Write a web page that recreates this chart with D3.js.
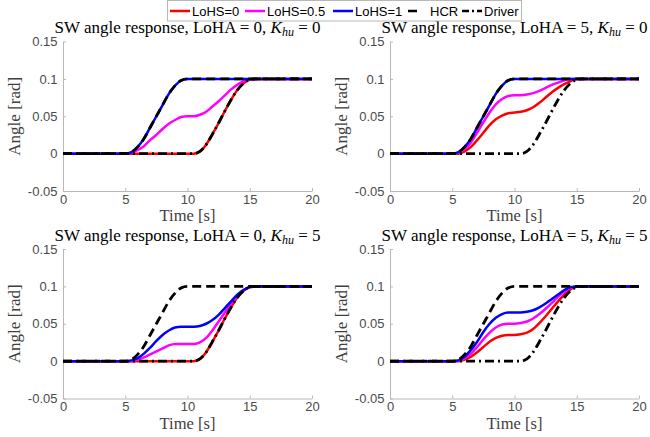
<!DOCTYPE html>
<html>
<head>
<meta charset="utf-8">
<script src="https://cdn.jsdelivr.net/npm/d3@7"></script>
<style>
  body { margin: 0; background: #fff; }
  svg { display: block; }
</style>
</head>
<body>
<script>
// time grid (s) and response curves
var time = [0,0.5,1,1.5,2,2.5,3,3.5,4,4.5,5,5.5,6,6.5,7,7.5,8,8.5,9,9.5,10,
  10.5,11,11.5,12,12.5,13,13.5,14,14.5,15,15.5,16,16.5,17,17.5,18,18.5,19,19.5,20];

var hcr = [0,0,0,0,0,0,0,0,0,0,0,
  0.002,0.009,0.02,0.035,0.05,0.065,0.08,0.091,0.098,
  0.1,0.1,0.1,0.1,0.1,0.1,0.1,0.1,0.1,0.1,0.1,0.1,0.1,0.1,0.1,0.1,0.1,0.1,0.1,0.1,0.1];

var driver = [0,0,0,0,0,0,0,0,0,0,0,0,0,0,0,0,0,0,0,0,0,0,
  0.003,0.012,0.026,0.041,0.057,0.072,0.085,0.094,0.099,
  0.1,0.1,0.1,0.1,0.1,0.1,0.1,0.1,0.1,0.1];

// LoHA = 0, Khu = 0
var p1_lohs0 = [0,0,0,0,0,0,0,0,0,0,0,0,0,0,0,0,0,0,0,0,0,0,
  0.003,0.012,0.026,0.041,0.057,0.072,0.085,0.094,0.099,
  0.1,0.1,0.1,0.1,0.1,0.1,0.1,0.1,0.1,0.1];
var p1_lohs05 = [0,0,0,0,0,0,0,0,0,0,0,
  0.001,0.005,0.01,0.018,0.025,0.033,0.04,0.045,0.049,0.05,
  0.05,0.052,0.056,0.063,0.07,0.078,0.086,0.092,0.097,0.099,
  0.1,0.1,0.1,0.1,0.1,0.1,0.1,0.1,0.1,0.1];
var p1_lohs1 = [0,0,0,0,0,0,0,0,0,0,0,
  0.002,0.009,0.02,0.035,0.05,0.065,0.08,0.091,0.098,
  0.1,0.1,0.1,0.1,0.1,0.1,0.1,0.1,0.1,0.1,0.1,0.1,0.1,0.1,0.1,0.1,0.1,0.1,0.1,0.1,0.1];

// LoHA = 5, Khu = 0
var p2_lohs0 = [0,0,0,0,0,0,0,0,0,0,0,0,
  0.003,0.009,0.018,0.028,0.038,0.046,0.051,0.054,0.055,0.056,0.058,0.062,0.068,0.075,0.082,0.088,0.093,0.097,
  0.1,0.1,0.1,0.1,0.1,0.1,0.1,0.1,0.1,0.1,0.1];
var p2_lohs05 = [0,0,0,0,0,0,0,0,0,0,0,
  0.001,0.006,0.015,0.028,0.042,0.055,0.066,0.073,0.077,0.078,0.078,0.079,0.081,0.084,0.088,0.092,0.095,0.098,
  0.1,0.1,0.1,0.1,0.1,0.1,0.1,0.1,0.1,0.1,0.1,0.1];
var p2_lohs1 = [0,0,0,0,0,0,0,0,0,0,0,
  0.002,0.009,0.02,0.035,0.05,0.065,0.08,0.091,0.098,
  0.1,0.1,0.1,0.1,0.1,0.1,0.1,0.1,0.1,0.1,0.1,0.1,0.1,0.1,0.1,0.1,0.1,0.1,0.1,0.1,0.1];

// LoHA = 0, Khu = 5
var p3_lohs0 = [0,0,0,0,0,0,0,0,0,0,0,0,0,0,0,0,0,0,0,0,0,0,
  0.003,0.012,0.026,0.041,0.057,0.072,0.085,0.094,0.099,
  0.1,0.1,0.1,0.1,0.1,0.1,0.1,0.1,0.1,0.1];
var p3_lohs05 = [0,0,0,0,0,0,0,0,0,0,0,0,
  0.002,0.005,0.009,0.013,0.017,0.021,0.023,0.023,0.023,0.023,0.025,0.031,0.041,0.053,0.065,0.077,0.087,0.095,0.099,
  0.1,0.1,0.1,0.1,0.1,0.1,0.1,0.1,0.1,0.1];
var p3_lohs1 = [0,0,0,0,0,0,0,0,0,0,0,
  0.001,0.004,0.01,0.018,0.027,0.035,0.041,0.045,0.046,0.046,0.046,0.047,0.05,0.055,0.062,0.071,0.08,0.089,0.095,0.099,
  0.1,0.1,0.1,0.1,0.1,0.1,0.1,0.1,0.1,0.1];

// LoHA = 5, Khu = 5
var p4_lohs0 = [0,0,0,0,0,0,0,0,0,0,0,0,
  0.002,0.006,0.012,0.019,0.026,0.031,0.034,0.035,0.035,0.036,0.038,0.043,0.051,0.06,0.07,0.08,0.089,0.096,
  0.1,0.1,0.1,0.1,0.1,0.1,0.1,0.1,0.1,0.1,0.1];
var p4_lohs05 = [0,0,0,0,0,0,0,0,0,0,0,
  0.0005,0.004,0.01,0.019,0.029,0.038,0.045,0.049,0.05,0.05,0.051,0.053,0.057,0.063,0.07,0.078,0.086,0.093,0.098,
  0.1,0.1,0.1,0.1,0.1,0.1,0.1,0.1,0.1,0.1,0.1];
var p4_lohs1 = [0,0,0,0,0,0,0,0,0,0,0,
  0.001,0.006,0.015,0.026,0.039,0.05,0.058,0.063,0.065,0.065,0.065,0.066,0.068,0.072,0.077,0.083,0.089,0.095,0.099,
  0.1,0.1,0.1,0.1,0.1,0.1,0.1,0.1,0.1,0.1,0.1];

var xTicks = [0, 5, 10, 15, 20];
var yTicks = [-0.05, 0, 0.05, 0.1, 0.15];
var yTickLabels = ['-0.05', '0', '0.05', '0.1', '0.15'];

var legendNames = ['LoHS=0', 'LoHS=0.5', 'LoHS=1', 'HCR', 'Driver'];

var panels = [
  { loha: 0, khu: 0, lines: [p1_lohs0, p1_lohs05, p1_lohs1], left: 63, top: 41.5 },
  { loha: 5, khu: 0, lines: [p2_lohs0, p2_lohs05, p2_lohs1], left: 390, top: 41.5 },
  { loha: 0, khu: 5, lines: [p3_lohs0, p3_lohs05, p3_lohs1], left: 63, top: 249 },
  { loha: 5, khu: 5, lines: [p4_lohs0, p4_lohs05, p4_lohs1], left: 390, top: 249 }
];

var colors = ['#ff0000', '#ff00ff', '#0000ff'];
var plotW = 249, plotH = 149.5;
var serif = '"Liberation Serif", "DejaVu Serif", serif';
var sans = '"Liberation Sans", Arial, sans-serif';

var svg = d3.select('body').append('svg')
  .attr('width', 650)
  .attr('height', 437);

var x = d3.scaleLinear().domain([0, 20]).range([0, plotW]);
var y = d3.scaleLinear().domain([-0.05, 0.15]).range([plotH, 0]);

var line = d3.line()
  .x(function(d) { return x(d[0]); })
  .y(function(d) { return y(d[1]); })
  .curve(d3.curveMonotoneX);

var pairs = function(vals) {
  return time.map(function(t, i) { return [t, vals[i]]; });
};

panels.forEach(function(p) {
  var g = svg.append('g').attr('transform', 'translate(' + p.left + ',' + p.top + ')');

  var xAxis = g.append('g')
    .attr('transform', 'translate(0,' + plotH + ')')
    .call(d3.axisBottom(x).tickValues(xTicks).tickSizeInner(-3).tickSizeOuter(0).tickPadding(3.5));
  var yAxis = g.append('g')
    .call(d3.axisLeft(y).tickValues(yTicks).tickSizeInner(-3).tickSizeOuter(0).tickPadding(5.5)
      .tickFormat(function(d, i) { return yTickLabels[i]; }));

  [xAxis, yAxis].forEach(function(a) {
    a.select('.domain').attr('stroke', '#b8b8b8').attr('stroke-width', 1);
    a.selectAll('.tick line').attr('stroke', '#b8b8b8');
    a.selectAll('.tick text')
      .attr('fill', '#4a4a4a')
      .style('font-family', sans)
      .style('font-size', '13px');
  });

  // colored responses
  p.lines.forEach(function(vals, i) {
    g.append('path')
      .attr('d', line(pairs(vals)))
      .attr('fill', 'none')
      .attr('stroke', colors[i])
      .attr('stroke-width', 2.5);
  });

  g.append('path')
    .attr('d', line(pairs(hcr)))
    .attr('fill', 'none')
    .attr('stroke', '#000')
    .attr('stroke-width', 2.8)
    .attr('stroke-dasharray', '9,5');

  g.append('path')
    .attr('d', line(pairs(driver)))
    .attr('fill', 'none')
    .attr('stroke', '#000')
    .attr('stroke-width', 2.8)
    .attr('stroke-dasharray', '9,4,2,4');

  // title
  var title = g.append('text')
    .attr('x', plotW / 2)
    .attr('y', -8.5)
    .attr('text-anchor', 'middle')
    .style('font-family', serif)
    .style('font-size', '17px')
    .attr('fill', '#000');
  title.append('tspan').text('SW angle response, LoHA = ' + p.loha + ', ');
  title.append('tspan').style('font-style', 'italic').text('K');
  title.append('tspan').style('font-style', 'italic').style('font-size', '12px').attr('dy', 3).text('hu');
  title.append('tspan').attr('dy', -3).text(' = ' + p.khu);

  g.append('text')
    .attr('x', plotW / 2)
    .attr('y', plotH + 30)
    .attr('text-anchor', 'middle')
    .style('font-family', serif)
    .style('font-size', '16.5px')
    .attr('fill', '#404040')
    .text('Time [s]');

  g.append('text')
    .attr('transform', 'translate(' + (-43) + ',' + (plotH / 2) + ') rotate(-90)')
    .attr('text-anchor', 'middle')
    .style('font-family', serif)
    .style('font-size', '17px')
    .attr('fill', '#404040')
    .text('Angle [rad]');
});

// legend
var legend = svg.append('g');
legend.append('rect')
  .attr('x', 167.5).attr('y', 0.5)
  .attr('width', 354).attr('height', 20.5)
  .attr('fill', '#fff')
  .attr('stroke', '#b8b8b8');

var legendX = [170, 245, 333, 408, 462];
var legendStroke = ['#ff0000', '#ff00ff', '#0000ff', '#000', '#000'];
var legendDash = [null, null, null, '9,12', '7,3,2,3'];
legendNames.forEach(function(name, i) {
  legend.append('line')
    .attr('x1', legendX[i]).attr('x2', legendX[i] + 20)
    .attr('y1', 11).attr('y2', 11)
    .attr('stroke', legendStroke[i])
    .attr('stroke-width', 2.5)
    .attr('stroke-dasharray', legendDash[i]);
  legend.append('text')
    .attr('x', legendX[i] + 22)
    .attr('y', 15.5)
    .style('font-family', sans)
    .style('font-size', '13px')
    .attr('fill', '#000')
    .text(name);
});
</script>
</body>
</html>
